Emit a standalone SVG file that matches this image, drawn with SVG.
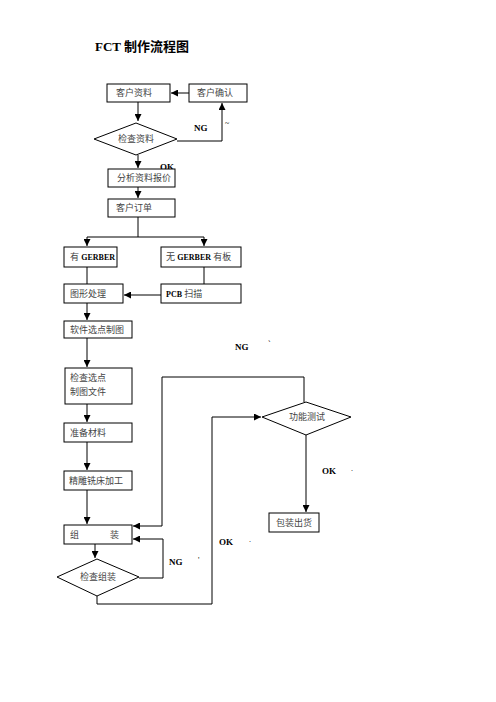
<svg xmlns="http://www.w3.org/2000/svg" width="496" height="702" viewBox="0 0 496 702">
<defs>
<marker id="ah" viewBox="0 0 8 8" refX="8" refY="4" markerWidth="7" markerHeight="7" markerUnits="userSpaceOnUse" orient="auto">
<path d="M0,0 L8,4 L0,8 z" fill="#000"/>
</marker>
</defs>
<style>
.n rect,.n polygon{fill:#fff;stroke:#000;stroke-width:1}
.c path{fill:none;stroke:#000;stroke-width:1}
.c .a{marker-end:url(#ah)}
text{font-family:"Liberation Serif","Noto Sans CJK SC",serif;font-size:9px;fill:#444}
.en{font-weight:bold;fill:#000;font-size:9px}
.g{font-weight:bold;fill:#000;font-size:8px}
.t{font-size:13px;font-weight:bold;fill:#000}
.m{fill:#000;font-size:8px}
</style>
<rect width="496" height="702" fill="#fff"/>
<text class="t" x="95" y="51">FCT 制作流程图</text>

<g class="c">
<path class="a" d="M189,93 H171"/>
<path class="a" d="M138,102 V121"/>
<path class="a" d="M177,141 H222 V103"/>
<path class="a" d="M138,155 V168"/>
<path class="a" d="M138,187 V198"/>
<path d="M138,217 V237"/>
<path class="a" d="M87,237 H204 V246"/>
<path class="a" d="M87,237 V246"/>
<path d="M87,267 V284"/>
<path d="M204,267 V284"/>
<path class="a" d="M161,295 H124"/>
<path class="a" d="M87,303 V320"/>
<path class="a" d="M87,338 V367"/>
<path class="a" d="M87,404 V422"/>
<path class="a" d="M87,442 V470"/>
<path class="a" d="M87,490 V524"/>
<path class="a" d="M95,544 V558"/>
<path class="a" d="M139,578 H163 V539 H133"/>
<path class="a" d="M304,402 V377 H162 V526 H133"/>
<path class="a" d="M97,596 V604 H212 V417 H261"/>
<path class="a" d="M306,435 V512"/>
</g>

<text class="en" x="160" y="170">OK</text>

<g id="n1" class="n"><rect x="107" y="84" width="63" height="18"/><text x="116" y="96">客户资料</text></g>
<g id="n2" class="n"><rect x="189" y="84" width="58" height="18"/><text x="197" y="96">客户确认</text></g>
<g id="n3" class="n"><polygon points="94,139 136,123 177,139 136,155"/><text x="118" y="142">检查资料</text></g>
<g id="n4" class="n"><rect x="108" y="169" width="67" height="18"/><text x="117" y="181">分析资料报价</text></g>
<g id="n5" class="n"><rect x="108" y="199" width="67" height="18"/><text x="116" y="211">客户订单</text></g>
<g id="n6" class="n"><rect x="64" y="247" width="53" height="20"/><text x="70" y="260">有 <tspan class="g">GERBER</tspan></text></g>
<g id="n7" class="n"><rect x="161" y="247" width="80" height="20"/><text x="166" y="260">无 <tspan class="g">GERBER</tspan>  有板</text></g>
<g id="n8" class="n"><rect x="64" y="284" width="59" height="19"/><text x="70" y="297">图形处理</text></g>
<g id="n9" class="n"><rect x="161" y="284" width="80" height="19"/><text x="166" y="297"><tspan class="g">PCB</tspan> 扫描</text></g>
<g id="n10" class="n"><rect x="64" y="321" width="68" height="17"/><text x="70" y="333">软件选点制图</text></g>
<g id="n11" class="n"><rect x="65" y="368" width="67" height="36"/><text x="70" y="381">检查选点</text><text x="70" y="395">制图文件</text></g>
<g id="n12" class="n"><rect x="64" y="423" width="68" height="19"/><text x="70" y="436">准备材料</text></g>
<g id="n13" class="n"><rect x="64" y="471" width="68" height="19"/><text x="69" y="484">精雕铣床加工</text></g>
<g id="n14" class="n"><rect x="64" y="525" width="68" height="19"/><text x="70" y="538">组</text><text x="110" y="538">装</text></g>
<g id="n15" class="n"><polygon points="57,577 97,559 139,577 97,596"/><text x="80" y="580">检查组装</text></g>
<g id="n16" class="n"><polygon points="262,417 306,402 351,417 306,435"/><text x="289" y="420">功能测试</text></g>
<g id="n17" class="n"><rect x="269" y="513" width="50" height="19"/><text x="276" y="526">包装出货</text></g>

<g id="labels">
<text class="en" x="194" y="131">NG</text><text class="m" x="225" y="126">~</text>
<text class="en" x="235" y="350">NG</text><text class="m" x="268" y="347">`</text>
<text class="en" x="322" y="474">OK</text><text class="m" x="351" y="471">.</text>
<text class="en" x="219" y="545">OK</text><text class="m" x="249" y="542">.</text>
<text class="en" x="169" y="565">NG</text><text class="m" x="198" y="563">'</text>
</g>
</svg>
